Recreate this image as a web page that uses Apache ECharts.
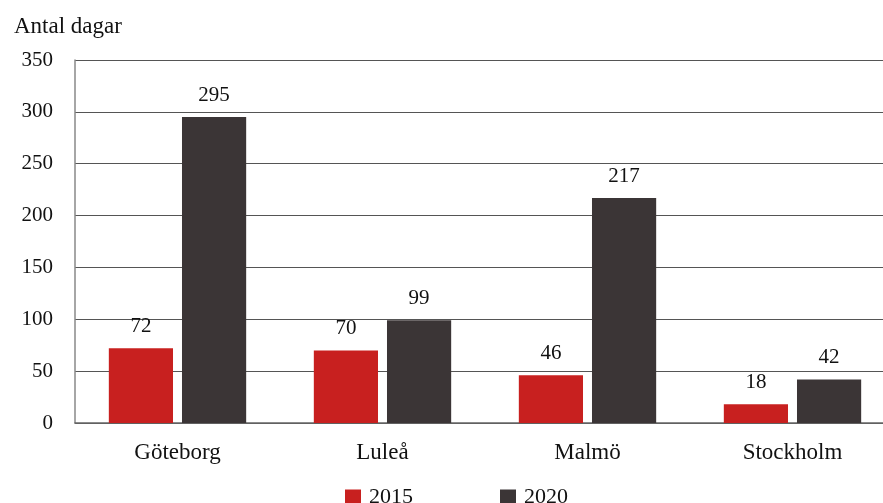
<!DOCTYPE html>
<html><head><meta charset="utf-8">
<script src="https://cdn.jsdelivr.net/npm/echarts@6/dist/echarts.min.js"></script>
<style>html,body{margin:0;padding:0;background:#fff}#c{width:883px;height:503px}</style>
</head><body><div id="c"></div>
<script>
const categories = ['Göteborg', 'Luleå', 'Malmö', 'Stockholm'];
const values2015 = [72, 70, 46, 18];
const values2020 = [295, 99, 217, 42];
const seriesNames = ['2015', '2020'];
const yTitle = 'Antal dagar';

const FONT = '"Liberation Serif", serif';
const chart = echarts.init(document.getElementById('c'), null, {renderer: 'canvas'});
const lbl = {show: true, position: 'top', distance: 11, color: '#111', fontFamily: FONT, fontSize: 21};
chart.setOption({
  animation: false,
  textStyle: {fontFamily: FONT},
  title: {text: yTitle, left: 9, top: 10, textStyle: {fontFamily: FONT, fontSize: 23, fontWeight: 'normal', color: '#111'}},
  legend: {
    data: seriesNames, left: 340, top: 481, itemWidth: 16, itemHeight: 15, itemGap: 87,
    icon: 'rect',
    textStyle: {fontFamily: FONT, fontSize: 22, color: '#111', padding: [0, 0, 0, 3]}
  },
  grid: {left: 75, top: 60, right: -12, bottom: 80, containLabel: false, outerBoundsMode: 'none'},
  xAxis: {
    type: 'category', data: categories,
    axisLine: {lineStyle: {color: '#666', width: 1.5}},
    axisTick: {show: false},
    axisLabel: {fontFamily: FONT, fontSize: 23, color: '#111', margin: 18}
  },
  yAxis: {
    type: 'value', min: 0, max: 350, interval: 50,
    axisLine: {show: true, lineStyle: {color: '#888', width: 1.5}},
    axisTick: {show: false},
    axisLabel: {fontFamily: FONT, fontSize: 21, color: '#111', margin: 22},
    splitLine: {lineStyle: {color: '#555', width: 1.2}}
  },
  series: [
    {name: seriesNames[0], type: 'bar', data: values2015, itemStyle: {color: '#c8201f'}, barGap: '14%', barCategoryGap: '33%', label: lbl},
    {name: seriesNames[1], type: 'bar', data: values2020, itemStyle: {color: '#3b3536'}, label: lbl}
  ]
});
</script></body></html>
